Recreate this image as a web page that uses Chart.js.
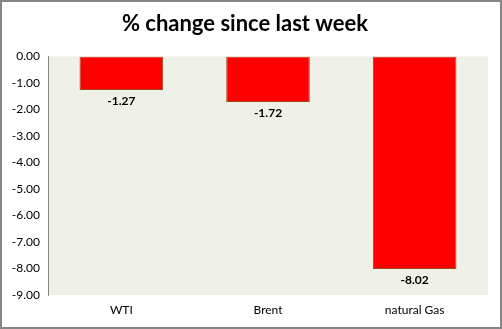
<!DOCTYPE html>
<html>
<head>
<meta charset="utf-8">
<script src="https://cdn.jsdelivr.net/npm/chart.js@4"></script>
<style>
  html, body { margin: 0; padding: 0; background: #fff; }
  #wrap { width: 502px; height: 329px; box-sizing: border-box; border: 2px solid #868686; }
  canvas { display: block; }
</style>
</head>
<body>
<div id="wrap"><canvas id="chart" width="498" height="325"></canvas></div>
<script>
const categories = ['WTI', 'Brent', 'natural Gas'];
const changes = [-1.27, -1.72, -8.02];
const yTicks = [0, -1, -2, -3, -4, -5, -6, -7, -8, -9];

const plotBackground = {
    id: 'plotBackground',
    beforeDraw(chart) {
        const { ctx, chartArea } = chart;
        ctx.save();
        ctx.fillStyle = '#EFF1E9';
        ctx.fillRect(chartArea.left, chartArea.top, chartArea.right - chartArea.left, chartArea.bottom - chartArea.top);
        ctx.restore();
    }
};

const valueLabels = {
    id: 'valueLabels',
    afterDatasetsDraw(chart) {
        const { ctx } = chart;
        const meta = chart.getDatasetMeta(0);
        ctx.save();
        ctx.font = 'bold 12px Lato, "Open Sans", sans-serif';
        ctx.fillStyle = '#000';
        ctx.textAlign = 'center';
        ctx.textBaseline = 'middle';
        meta.data.forEach((bar, i) => {
            ctx.fillText(changes[i].toFixed(2), bar.x, bar.y + 11);
        });
        ctx.restore();
    }
};

new Chart(document.getElementById('chart'), {
    type: 'bar',
    data: {
        labels: categories,
        datasets: [{
            data: changes,
            backgroundColor: '#FF0000',
            borderColor: '#9C4A1A',
            borderWidth: 1,
            borderSkipped: false,
            categoryPercentage: 1,
            barPercentage: 0.57
        }]
    },
    options: {
        responsive: false,
        animation: false,
        layout: { padding: { right: 12, bottom: 0 } },
        plugins: {
            legend: { display: false },
            tooltip: { enabled: false },
            title: {
                display: true,
                text: '% change since last week',
                color: '#000',
                font: { family: 'Lato, "Open Sans", sans-serif', size: 22, weight: 'bold' },
                padding: { top: 9, bottom: 19 }
            }
        },
        scales: {
            x: {
                grid: { display: false, drawTicks: false },
                border: { display: false },
                ticks: {
                    color: '#000',
                    font: { family: 'Lato, "Open Sans", sans-serif', size: 12 },
                    padding: 8
                },
                afterFit(scale) { scale.height = 32; }
            },
            y: {
                min: -9,
                max: 0,
                grid: { display: false, drawTicks: false },
                border: { display: true, color: '#868686', width: 1 },
                afterBuildTicks(scale) { scale.ticks = yTicks.map(v => ({ value: v })); },
                ticks: {
                    color: '#000',
                    font: { family: 'Lato, "Open Sans", sans-serif', size: 12 },
                    padding: 8,
                    callback: v => v.toFixed(2)
                },
                afterFit(scale) { scale.width = 46; }
            }
        }
    },
    plugins: [plotBackground, valueLabels]
});
</script>
</body>
</html>
